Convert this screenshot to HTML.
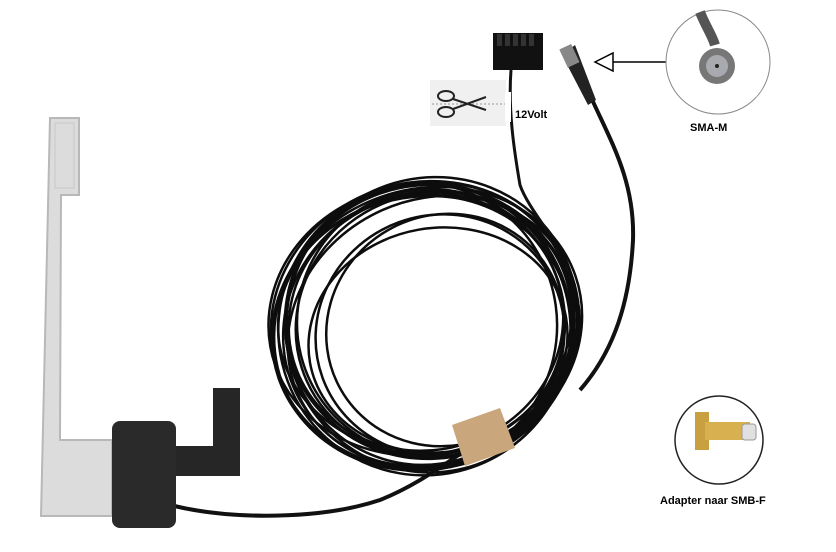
<!DOCTYPE html>
<html><head><style>body{margin:0;background:#fff}svg{display:block}text{font-family:"Liberation Sans",sans-serif;font-weight:bold;font-size:11px}</style></head>
<body>
<svg width="836" height="552" viewBox="0 0 836 552">
<polygon points="50,118 79,118 79,195 61,195 60,440 112,440 112,516 41,516" fill="#dcdcdc" stroke="#b8b8b8" stroke-width="2"/>
<polygon points="55,123 74,123 74,188 55,188" fill="none" stroke="#c8c8c8"/>
<polygon points="213,388 240,388 240,476 175,476 175,446 213,446" fill="#262626"/>
<path d="M170,505 C230,520 320,520 380,500 C430,480 460,450 500,430" fill="none" stroke="#111" stroke-width="4"/>
<rect x="112" y="421" width="64" height="107" rx="8" fill="#2a2a2a"/>
<g fill="none" stroke="#0d0d0d" stroke-width="2.5">
<ellipse cx="425" cy="325" rx="155" ry="143" transform="rotate(-15 425 325)"/>
<ellipse cx="430" cy="330" rx="148" ry="138" transform="rotate(-20 430 330)"/>
<ellipse cx="420" cy="320" rx="152" ry="135" transform="rotate(-10 420 320)"/>
<ellipse cx="428" cy="328" rx="142" ry="145" transform="rotate(-25 428 328)"/>
<ellipse cx="435" cy="325" rx="140" ry="132" transform="rotate(-18 435 325)"/>
<ellipse cx="422" cy="333" rx="150" ry="137" transform="rotate(-12 422 333)"/>
<ellipse cx="432" cy="318" rx="146" ry="140" transform="rotate(-22 432 318)"/>
<ellipse cx="426" cy="322" rx="138" ry="128" transform="rotate(-16 426 322)"/>
<ellipse cx="424" cy="326" rx="153" ry="140" transform="rotate(-30 424 326)"/>
<ellipse cx="429" cy="321" rx="144" ry="136" transform="rotate(-5 429 321)"/>
<ellipse cx="433" cy="331" rx="149" ry="131" transform="rotate(-28 433 331)"/>
<ellipse cx="421" cy="324" rx="136" ry="141" transform="rotate(-8 421 324)"/>
<ellipse cx="427" cy="327" rx="157" ry="138" transform="rotate(-19 427 327)"/>
<ellipse cx="431" cy="323" rx="134" ry="134" transform="rotate(-14 431 323)"/>
<ellipse cx="425" cy="329" rx="147" ry="146" transform="rotate(-35 425 329)"/>
<ellipse cx="429" cy="325" rx="151" ry="129" transform="rotate(-2 429 325)"/>
<ellipse cx="440" cy="335" rx="125" ry="120" transform="rotate(-20 440 335)"/>
<ellipse cx="445" cy="330" rx="120" ry="115" transform="rotate(-30 445 330)"/>
<ellipse cx="438" cy="340" rx="130" ry="112" transform="rotate(-10 438 340)"/>
</g>
<polygon points="452,425 500,408 515,448 465,466" fill="#c9a67c"/>
<path d="M511,70 C508,110 514,150 520,185 C525,200 540,220 550,235" fill="none" stroke="#111" stroke-width="3"/>
<rect x="493" y="33" width="50" height="37" fill="#111"/>
<g fill="#333"><rect x="497" y="34" width="5" height="12"/><rect x="505" y="34" width="5" height="12"/><rect x="513" y="34" width="5" height="12"/><rect x="521" y="34" width="5" height="12"/><rect x="529" y="34" width="5" height="12"/></g>
<path d="M590,95 C610,140 635,180 633,240 C630,300 615,350 580,390" fill="none" stroke="#111" stroke-width="4"/>
<polygon points="562,55 575,45 596,100 588,105" fill="#222"/>
<rect x="563" y="46" width="13" height="20" fill="#888" transform="rotate(-25 569 56)"/>
<rect x="430" y="80" width="76" height="46" fill="#f0f0f0"/>
<rect x="505" y="92" width="6" height="30" fill="#fff"/>
<line x1="432" y1="104" x2="505" y2="104" stroke="#999" stroke-dasharray="2,2"/>
<g fill="none" stroke="#222" stroke-width="2"><ellipse cx="446" cy="96" rx="8" ry="5"/><ellipse cx="446" cy="112" rx="8" ry="5"/><path d="M453,99 L486,110 M453,109 L486,97"/></g>
<text x="515" y="118">12Volt</text>
<line x1="612" y1="62" x2="670" y2="62" stroke="#000" stroke-width="1.5"/>
<polygon points="595,62 613,53 613,71" fill="#fff" stroke="#000" stroke-width="1.5"/>
<circle cx="718" cy="62" r="52" fill="#fff" stroke="#888"/>
<path d="M700,12 C705,25 712,35 715,45" fill="none" stroke="#555" stroke-width="10"/>
<circle cx="717" cy="66" r="18" fill="#777"/><circle cx="717" cy="66" r="11" fill="#a9a9b0"/><circle cx="717" cy="66" r="2" fill="#222"/>
<text x="690" y="131">SMA-M</text>
<circle cx="719" cy="440" r="44" fill="#fff" stroke="#222" stroke-width="1.5"/>
<rect x="695" y="412" width="14" height="38" fill="#c9a040"/>
<rect x="705" y="422" width="45" height="18" fill="#d8b050"/>
<rect x="742" y="424" width="14" height="16" rx="3" fill="#e0e0e0" stroke="#999"/>
<text x="660" y="504">Adapter naar SMB-F</text>
</svg>
</body></html>
